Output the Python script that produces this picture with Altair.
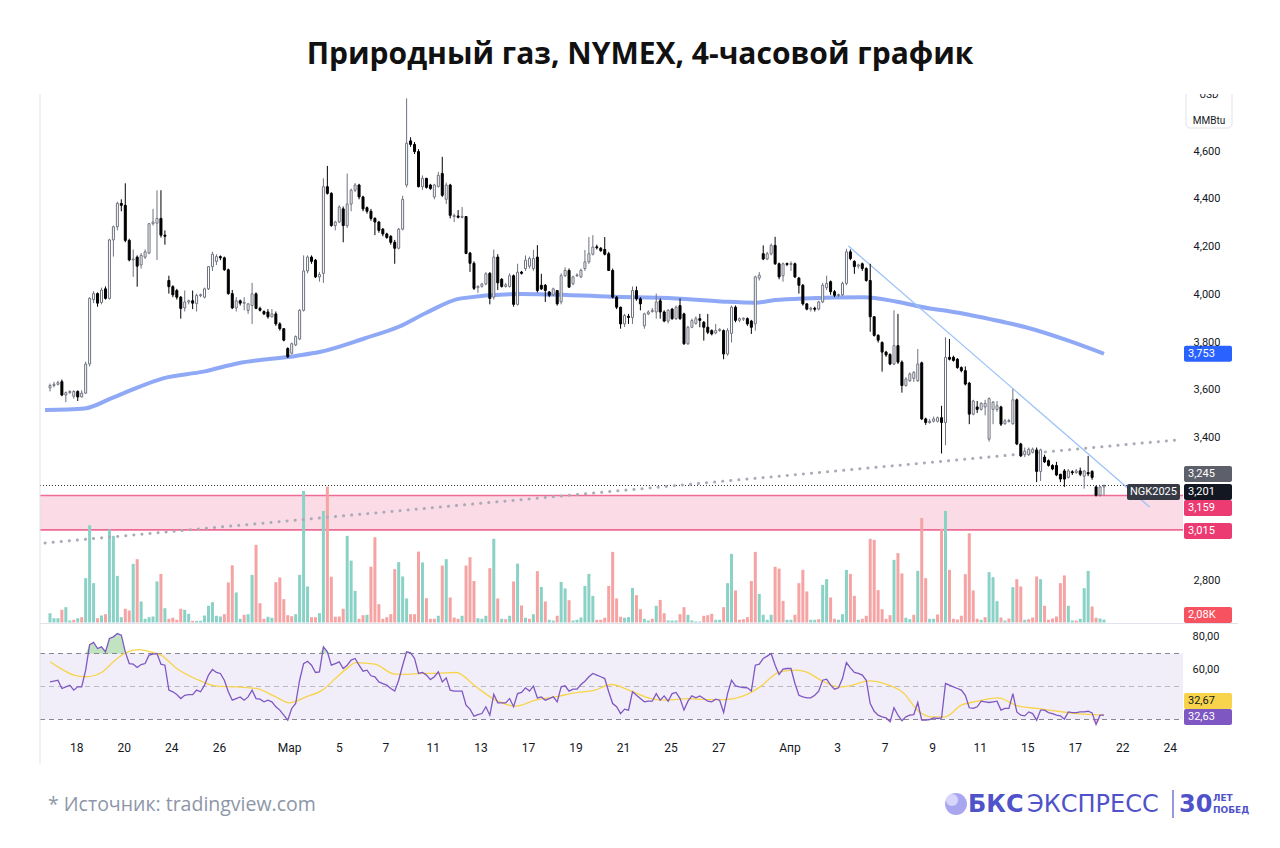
import altair as alt
import numpy as np
import pandas as pd

# ---------------- data ----------------
opens = [3.610, 3.620, 3.625, 3.636, 3.580, 3.590, 3.575, 3.595, 3.572, 3.588,
         3.710, 3.980, 4.005, 3.968, 4.025, 3.985, 4.230, 4.285, 4.383, 4.375,
         4.228, 4.146, 4.158, 4.125, 4.158, 4.175, 4.298, 4.300, 4.320, 4.250,
         4.060, 4.034, 4.018, 3.990, 3.945, 3.970, 3.975, 3.963, 3.997, 3.990,
         4.025, 4.118, 4.140, 4.160, 4.155, 4.105, 4.005, 3.945,
         3.975, 3.965, 3.935, 3.955, 4.004, 3.943, 3.930, 3.928, 3.908, 3.920, 3.878, 3.858,
         3.775, 3.755, 3.790, 3.815, 3.935, 4.100, 4.158, 4.145, 4.075, 4.090,
         4.453, 4.425, 4.290, 4.305, 4.360, 4.290, 4.380, 4.438, 4.460, 4.410,
         4.365, 4.350, 4.320, 4.305, 4.275, 4.255, 4.245, 4.220, 4.195, 4.275,
         4.460, 4.645, 4.630, 4.600, 4.453, 4.488,
         4.460, 4.410, 4.453, 4.508,
         4.400, 4.460, 4.330, 4.330, 4.325, 4.328, 4.175, 4.132, 4.030, 4.035,
         4.045, 4.090, 3.990, 4.158, 4.065, 4.035, 4.035, 4.080, 3.960, 4.095,
         4.110, 4.120, 4.110, 4.158, 4.040, 4.040, 4.012, 4.000, 4.018, 3.970,
         4.080, 4.102, 4.046, 4.080, 4.075, 4.110, 4.138, 4.170, 4.200, 4.195,
         4.190, 4.172, 4.102,
         3.990, 3.948, 3.878, 3.910, 3.905, 4.018, 3.983,
         3.870, 3.920, 3.930, 3.928, 3.975, 3.928, 3.890, 3.940, 3.900, 3.955,
         3.920, 3.795, 3.864, 3.880, 3.900, 3.885, 3.864, 3.850, 3.840, 3.850,
         3.850, 3.752, 3.838, 3.948, 3.893, 3.900, 3.900, 3.890, 3.878, 4.070,
         4.172, 4.150, 4.172, 4.207, 4.130, 4.080, 4.130, 4.128, 4.130, 4.070,
         4.040, 3.962, 3.940, 3.943, 3.940, 3.970, 4.030, 4.055, 4.013, 3.998,
         4.000, 4.048, 4.180, 4.140, 4.120, 4.130, 4.110, 4.060, 3.908, 3.830,
         3.800, 3.760, 3.750, 3.710, 3.787, 3.718, 3.620, 3.640, 3.650, 3.640,
         3.715, 3.480, 3.465, 3.470, 3.470, 3.485, 3.465, 3.738, 3.738, 3.730,
         3.695, 3.682, 3.630, 3.500, 3.530, 3.520, 3.530, 3.395,
         3.520, 3.520, 3.530, 3.460, 3.470, 3.460, 3.560, 3.375, 3.330, 3.330, 3.340, 3.350,
         3.260, 3.320, 3.305, 3.285, 3.285, 3.248, 3.262, 3.235, 3.258, 3.255,
         3.262, 3.240, 3.255, 3.260, 3.195, 3.160, 3.195]

highs = [3.628, 3.635, 3.640, 3.645, 3.595, 3.600, 3.600, 3.600, 3.600, 3.720,
         3.990, 4.015, 4.010, 4.030, 4.035, 4.235, 4.290, 4.390, 4.400, 4.467,
         4.235, 4.190, 4.165, 4.175, 4.190, 4.300, 4.360, 4.438, 4.438, 4.270,
         4.080, 4.040, 4.025, 3.995, 4.018, 3.980, 4.018, 4.005, 4.005, 4.030,
         4.120, 4.180, 4.170, 4.165, 4.160, 4.110, 4.020, 3.990,
         3.980, 3.990, 3.965, 4.050, 4.010, 3.950, 3.935, 3.940, 3.940, 3.930, 3.885, 3.860,
         3.780, 3.800, 3.830, 3.940, 4.165, 4.165, 4.165, 4.150, 4.095, 4.488,
         4.540, 4.430, 4.310, 4.375, 4.370, 4.508, 4.445, 4.468, 4.465, 4.415,
         4.370, 4.360, 4.325, 4.310, 4.280, 4.260, 4.250, 4.230, 4.280, 4.415,
         4.823, 4.660, 4.640, 4.610, 4.500, 4.490,
         4.465, 4.465, 4.515, 4.578,
         4.470, 4.465, 4.340, 4.355, 4.368, 4.330, 4.180, 4.140, 4.040, 4.050,
         4.095, 4.095, 4.190, 4.170, 4.070, 4.050, 4.090, 4.085, 4.130, 4.100,
         4.165, 4.160, 4.188, 4.208, 4.088, 4.045, 4.015, 4.030, 4.020, 4.090,
         4.115, 4.110, 4.080, 4.090, 4.110, 4.188, 4.242, 4.250, 4.210, 4.200,
         4.242, 4.180, 4.110,
         3.995, 3.950, 3.920, 3.920, 4.035, 4.035, 3.990,
         3.925, 3.935, 3.945, 4.005, 3.985, 3.935, 3.940, 3.945, 3.955, 3.985,
         3.925, 3.870, 3.900, 3.910, 3.920, 3.890, 3.920, 3.855, 3.878, 3.860,
         3.855, 3.860, 3.955, 3.955, 3.905, 3.905, 3.905, 3.895, 4.080, 4.095,
         4.207, 4.180, 4.215, 4.243, 4.135, 4.135, 4.135, 4.140, 4.135, 4.075,
         4.045, 3.965, 3.950, 3.950, 3.975, 4.050, 4.080, 4.060, 4.020, 4.005,
         4.055, 4.193, 4.190, 4.145, 4.130, 4.135, 4.115, 4.130, 3.910, 3.835,
         3.805, 3.765, 3.755, 3.935, 3.920, 3.725, 3.655, 3.675, 3.680, 3.773,
         3.720, 3.485, 3.480, 3.490, 3.490, 3.535, 3.822, 3.815, 3.745, 3.735,
         3.700, 3.700, 3.635, 3.560, 3.555, 3.550, 3.560, 3.570,
         3.555, 3.555, 3.535, 3.480, 3.480, 3.605, 3.565, 3.380, 3.360, 3.360, 3.360, 3.360,
         3.355, 3.330, 3.310, 3.290, 3.300, 3.250, 3.270, 3.270, 3.265, 3.270,
         3.276, 3.265, 3.325, 3.265, 3.200, 3.200, 3.205]

lows = [3.595, 3.612, 3.620, 3.575, 3.550, 3.585, 3.565, 3.555, 3.570, 3.585,
        3.700, 3.965, 3.950, 3.960, 3.980, 3.980, 4.160, 4.270, 4.350, 4.220,
        4.140, 4.075, 4.034, 4.110, 4.150, 4.170, 4.290, 4.146, 4.240, 4.210,
        4.005, 3.990, 3.980, 3.900, 3.930, 3.960, 3.940, 3.930, 3.990, 3.985,
        4.020, 4.100, 4.125, 4.145, 4.100, 4.000, 3.940, 3.930,
        3.955, 3.935, 3.920, 3.878, 3.940, 3.930, 3.915, 3.900, 3.905, 3.870, 3.850, 3.805,
        3.735, 3.750, 3.785, 3.810, 3.930, 4.090, 4.130, 4.070, 4.055, 4.050,
        4.420, 4.285, 4.270, 4.300, 4.220, 4.280, 4.350, 4.430, 4.400, 4.350,
        4.340, 4.310, 4.250, 4.260, 4.245, 4.235, 4.210, 4.130, 4.190, 4.270,
        4.450, 4.620, 4.590, 4.450, 4.440, 4.445,
        4.440, 4.400, 4.450, 4.410,
        4.380, 4.320, 4.305, 4.320, 4.320, 4.170, 4.096, 4.020, 4.008, 4.030,
        4.040, 3.960, 3.980, 4.020, 4.030, 4.030, 4.030, 3.950, 3.955, 4.085,
        4.100, 4.110, 4.100, 4.010, 4.020, 3.970, 3.990, 3.995, 3.955, 3.960,
        4.075, 4.030, 4.040, 4.075, 4.070, 4.100, 4.130, 4.165, 4.190, 4.180,
        4.165, 4.100, 3.985,
        3.940, 3.858, 3.865, 3.878, 3.878, 3.975, 3.935,
        3.858, 3.915, 3.925, 3.900, 3.900, 3.885, 3.880, 3.895, 3.895, 3.895,
        3.790, 3.790, 3.860, 3.875, 3.864, 3.808, 3.835, 3.830, 3.835, 3.845,
        3.730, 3.745, 3.800, 3.885, 3.885, 3.890, 3.870, 3.836, 3.850, 4.060,
        4.145, 4.145, 4.165, 4.125, 4.065, 4.055, 4.120, 4.100, 4.070, 4.005,
        3.955, 3.935, 3.930, 3.930, 3.935, 3.965, 4.020, 4.000, 3.990, 3.990,
        3.995, 4.040, 4.145, 4.088, 4.110, 4.100, 4.055, 3.845, 3.825, 3.800,
        3.678, 3.740, 3.705, 3.705, 3.710, 3.590, 3.615, 3.635, 3.635, 3.635,
        3.475, 3.455, 3.460, 3.465, 3.465, 3.335, 3.370, 3.725, 3.720, 3.690,
        3.675, 3.620, 3.458, 3.495, 3.505, 3.515, 3.495, 3.385,
        3.458, 3.510, 3.450, 3.455, 3.465, 3.455, 3.370, 3.320, 3.320, 3.325, 3.335, 3.215,
        3.220, 3.295, 3.280, 3.265, 3.240, 3.215, 3.195, 3.230, 3.245, 3.250,
        3.240, 3.188, 3.240, 3.225, 3.155, 3.155, 3.160]

closes = [3.620, 3.625, 3.632, 3.580, 3.590, 3.595, 3.595, 3.572, 3.588, 3.710,
          3.985, 4.005, 3.965, 4.020, 3.985, 4.230, 4.285, 4.383, 4.375, 4.228,
          4.146, 4.150, 4.120, 4.165, 4.180, 4.298, 4.305, 4.320, 4.250, 4.245,
          4.034, 4.000, 3.990, 3.943, 3.970, 3.975, 3.965, 3.997, 4.000, 4.025,
          4.118, 4.170, 4.160, 4.155, 4.105, 4.005, 3.945, 3.975,
          3.965, 3.968, 3.962, 4.004, 3.943, 3.935, 3.920, 3.908, 3.920, 3.878, 3.858, 3.810,
          3.740, 3.795, 3.825, 3.935, 4.100, 4.158, 4.140, 4.075, 4.085, 4.453,
          4.425, 4.290, 4.305, 4.368, 4.290, 4.380, 4.438, 4.460, 4.410, 4.360,
          4.350, 4.320, 4.305, 4.270, 4.255, 4.240, 4.220, 4.195, 4.275, 4.400,
          4.635, 4.630, 4.600, 4.453, 4.488, 4.450,
          4.445, 4.460, 4.500, 4.417,
          4.460, 4.333, 4.330, 4.325, 4.328, 4.173, 4.132, 4.027, 4.035, 4.045,
          4.088, 3.985, 4.158, 4.050, 4.035, 4.042, 4.080, 3.960, 4.095, 4.090,
          4.145, 4.152, 4.152, 4.018, 4.025, 4.018, 3.998, 4.025, 3.962, 4.080,
          4.102, 4.032, 4.075, 4.083, 4.102, 4.138, 4.172, 4.200, 4.198, 4.185,
          4.170, 4.102, 3.990,
          3.948, 3.878, 3.913, 3.905, 4.018, 3.983, 3.962,
          3.920, 3.928, 3.935, 3.970, 3.928, 3.890, 3.935, 3.900, 3.948, 3.900,
          3.795, 3.864, 3.892, 3.900, 3.893, 3.864, 3.843, 3.836, 3.850, 3.855,
          3.752, 3.850, 3.948, 3.893, 3.900, 3.900, 3.878, 3.864, 4.075, 4.082,
          4.150, 4.172, 4.207, 4.130, 4.075, 4.130, 4.128, 4.130, 4.075, 4.040,
          3.962, 3.940, 3.943, 3.940, 3.970, 4.040, 4.048, 4.013, 3.998, 4.000,
          4.048, 4.180, 4.152, 4.118, 4.125, 4.110, 4.060, 3.908, 3.830, 3.810,
          3.760, 3.748, 3.710, 3.787, 3.718, 3.620, 3.647, 3.668, 3.675, 3.710,
          3.480, 3.465, 3.470, 3.480, 3.485, 3.465, 3.738, 3.730, 3.725, 3.695,
          3.682, 3.626, 3.500, 3.555, 3.520, 3.545, 3.545, 3.565,
          3.550, 3.535, 3.458, 3.472, 3.472, 3.560, 3.375, 3.325, 3.345, 3.353, 3.353, 3.260,
          3.350, 3.300, 3.285, 3.270, 3.245, 3.228, 3.228, 3.262, 3.255, 3.262,
          3.248, 3.262, 3.250, 3.235, 3.160, 3.195, 3.201]

volumes_k = [6.5, 3.0, 3.0, 8.9, 10.7, 1.4, 1.9, 3.0, 3.7, 31,
             68, 27.5, 3.0, 4.9, 5.8, 65, 60.6, 32.6, 3.7, 9.6,
             8.4, 41, 44.3, 14.7, 2.6, 3.7, 4.2, 28.7, 34, 10,
             2.6, 3.3, 1.9, 9.6, 8.9, 6.1, 1.2, 1.2, 1.2, 4.9,
             11.7, 14.2, 4.7, 4.2, 5.8, 28, 40, 21, 2.6, 5.4,
             5.8, 33.3, 54.3, 13.5, 2.6, 4, 3.3, 28.2, 31.5, 16.3,
             5.1, 4.4, 5.8, 33.3, 92, 25.2, 3.7, 3.7, 6.5, 78,
             95, 32, 4, 4.2, 9.6, 60.6, 43.3, 22.1, 2.6, 5.1,
             5.4, 39, 59.6, 12.8, 2.6, 3.7, 5.8, 37.3, 42.2, 32.2,
             16.8, 5.8, 5.8, 49.6,
             42, 17, 2.6, 2.6, 4.7, 39.8,
             44.3, 17.5, 3.5, 2.6, 4.7, 39.8, 45.7, 29, 3, 2.6,
             4.7, 38, 58.5, 16.8, 2.6, 2.3, 4.7, 28.7, 41.2, 11.9,
             3.3, 2.6, 5.8, 35.9, 24.9, 14.7, 1.9, 1.4, 4.7, 28.4,
             23.8, 15.6, 1.4, 1.9, 3.5, 25.6, 34, 18.6, 1.9, 1.9,
             3.3, 25.6, 49.4, 16.8, 4, 3.3, 3.7, 24.2, 19.1, 9.3,
             2.6, 1.4, 2.6, 11.7, 15.8, 6.5, 1.4, 1.4, 1.4, 5.8,
             10.7, 5.4, 1.4, 0.7, 0.7, 4.7, 5.1, 6.1, 1.9, 1.9,
             10.7, 27.5, 48, 22.4, 1.9, 2.3, 3.7, 29, 49.4, 20,
             5.4, 1.9, 5.4, 39, 37.7, 15.1, 1.9, 1.9,
             5.4, 27.5,
             36.8, 21.7, 1.9, 1.9, 2.3, 26.3, 30.3, 17.5, 2.6, 1.9,
             5.8, 36.8, 34, 18.6, 1.9, 2.6, 4.7, 58.5, 57.8, 22.6,
             9.3, 2.6, 5.1, 43.8, 48.5, 34.3, 3.3, 2.3, 5.4, 36.1,
             73, 31, 2.6, 2.6, 5.6, 65.5, 78, 36.8, 2.6, 2.1,
             4.7, 33.8, 62.4, 22.4, 2.6, 1.9, 3.7, 35.2, 31.7, 14.9,
             3.5, 1.4, 2.8, 24.7, 30.3, 25.2, 1.9, 2.3, 3.5, 32.2,
             30.3, 11.7, 1.9, 2.8, 4.2, 27.5, 32.9, 11.7, 1.4, 1.4,
             2.6, 24, 36.1, 11.2, 3.3, 2.8, 2.08]

volume_dir = ("gggrggrgrg" "ggrgrggggr" "rgrgggggrg" "rrrrggrggg" "ggggrrrggr"
              "ggrrrggrrr" "rrggggrrgg" "rrrrrgggrr" "grrrrrrrgg" "grrr"
              "grrrgr" "grrrgrrrgg" "grgrgrgrgr" "grgrgrggrg" "grggggggrr"
              "rrrrrgggrr" "ggrgrrgggr" "rggggrrrgg" "rggrrrrrrg" "gggrrrgg"
              "rr" "rrggrggrrg" "ggrrgrrrrr" "rrrgrrggrg" "rrggrrgrrr"
              "rrrrrgrggg" "rgrgrrgrrr" "grrrrrrggr" "gggrrgg")

rsi = [52.8, 53.3, 53.8, 48.8, 49.8, 50.8, 47.8, 49.8, 49.8, 59.9,
       75.4, 76.7, 73.0, 74.0, 71.0, 79.1, 80.1, 82.1, 81.1, 71.0,
       63.9, 63.5, 61.5, 63.3, 63.9, 69.0, 69.6, 70.0, 63.5, 62.9,
       47.8, 46.8, 45.1, 42.7, 44.7, 45.1, 45.1, 47.8, 46.8, 50.8,
       56.9, 60.3, 58.5, 57.9, 53.8, 46.8, 41.7, 42.7, 43.7, 41.7,
       43.7, 47.8, 42.7, 42.3, 40.7, 41.7, 40.7, 37.7, 35.7, 32.6,
       29.6, 36.7, 39.7, 53.8, 63.9, 65.3, 62.9, 58.5, 58.9, 74.0,
       71.0, 62.9, 63.9, 64.9, 60.9, 62.9, 66.0, 67.0, 62.9, 59.3,
       59.9, 56.5, 55.9, 52.8, 51.8, 50.8, 48.8, 47.2, 53.8, 62.9,
       71.0, 70.4, 67.0, 57.9, 58.5, 56.9, 54.2, 55.9, 58.9, 52.8,
       55.2, 47.8, 47.2, 47.2, 47.2, 38.7, 36.3, 32.0, 33.0, 33.6,
       37.7, 32.6, 45.3, 40.1, 40.1, 40.1, 42.7, 37.7, 45.7, 46.4,
       49.2, 47.2, 50.2, 43.1, 43.7, 41.7, 42.7, 43.7, 40.7, 49.8,
       50.4, 47.2, 48.4, 48.4, 51.2, 53.2, 55.9, 57.9, 56.9, 55.9,
       54.8, 46.8, 39.7, 37.7, 33.6, 36.3, 35.7, 46.8, 44.7, 42.7,
       40.7, 41.1, 41.1, 45.7, 41.7, 44.3, 41.1, 45.7, 46.4, 42.7,
       35.7, 41.1, 44.3, 43.1, 44.3, 42.7, 41.1, 40.7, 42.3, 41.7,
       34.2, 45.7, 53.8, 50.4, 49.8, 49.4, 49.2, 47.2, 62.9, 63.5,
       67.0, 68.4, 70.0, 62.9, 57.3, 60.5, 60.9, 60.9, 51.8, 44.7,
       43.7, 43.1, 43.1, 44.7, 47.2, 53.8, 54.4, 50.8, 48.4, 49.2,
       54.8, 64.5, 61.3, 58.5, 57.9, 56.9, 53.8, 39.7, 35.0, 32.6,
       31.6, 31.0, 28.6, 37.1, 32.6, 29.2, 31.6, 32.6, 33.0, 40.3,
       29.6, 29.6, 30.0, 31.0, 30.6, 31.0, 51.8, 50.8, 49.8, 48.8,
       47.8, 44.7, 37.1, 36.7, 37.7, 41.1, 40.7, 40.3, 40.7, 41.1,
       35.7, 36.7, 36.7, 45.7, 34.6, 32.6, 32.2, 34.6, 33.6, 29.6,
       35.7, 35.7, 34.2, 33.6, 32.6, 32.2, 30.2, 34.6, 34.2, 34.2,
       34.6, 34.6, 35.0, 34.0, 27.0, 32.6, 32.63]

rsi_ma_idx = [0, 2, 6, 9, 13, 16, 19, 22.5, 25.4, 28, 32, 37, 42, 47, 52, 57, 60.4,
              64.6, 68.75, 72, 75.4, 77, 82, 87, 90.4, 93.75, 97.5, 102.5, 107.5,
              112.5, 117.5, 122.5, 127.5, 132.5, 137.5, 141.7, 146.7, 151.7, 155.8,
              160.8, 165.8, 170, 175.8, 179.2, 184.2, 188.3, 190.8, 195, 199.2,
              202.5, 206.7, 211.7, 215.25, 219.2, 222.5, 225.8, 230, 234.2, 239.2,
              244.2, 249.2, 254.2, 259.2, 266]
rsi_ma_val = [65, 61.9, 56.9, 55.9, 58.5, 65, 70.4, 72.4, 71, 69, 60.9, 54.4, 50.2,
              49.8, 48.8, 43.7, 40.1, 43.7, 47.8, 54.8, 61.9, 64.5, 63.5, 57.5, 57.3,
              57.9, 57.9, 58.5, 49.8, 41.7, 38.1, 41.7, 43.7, 46.2, 47.8, 51.2, 47.2,
              42.7, 41.7, 42.7, 42.1, 42.1, 45.1, 49.8, 58.9, 59.9, 58.9, 53.2, 49.8,
              50.8, 53.4, 50.8, 46.4, 35, 31.6, 31.6, 38.7, 41.1, 43.1, 38.3, 36.7,
              35.0, 33.6, 32.67]

ma_idx = [-1.25, 8.75, 15.4, 19.5, 28.75, 38.75, 47.5, 62, 68, 79.5, 88, 95, 103.75,
          118.75, 142, 158, 170.4, 178, 183, 190, 205.4, 213.75, 222, 226.25, 237.5,
          246.25, 257, 266]
ma_val = [3.517, 3.524, 3.566, 3.594, 3.651, 3.678, 3.713, 3.744, 3.760, 3.818, 3.866,
          3.925, 3.985, 4.003, 3.992, 3.985, 3.971, 3.967, 3.978, 3.985, 3.990, 3.971,
          3.943, 3.933, 3.897, 3.864, 3.808, 3.753]

trend_idx = [201.5, 277.5]
trend_val = [4.204, 3.111]
support_idx = [-1.25, 284.5]
support_val = [2.960, 3.392]

zone_low, zone_high = 3.015, 3.159
last_price = 3.201
level_245 = 3.245
ma_last = 3.753
vol_last = 2.08
rsi_last, rsi_ma_last = 32.63, 32.67

price_ticks = [4.6, 4.4, 4.2, 4.0, 3.8, 3.6, 3.4, 2.8]
rsi_ticks = [80, 60]
date_text = ["18", "20", "24", "26", "Мар", "5", "7", "11", "13", "17", "19", "21",
             "25", "27", "Апр", "3", "7", "9", "11", "15", "17", "22", "24"]
date_bar = [6.75, 18.75, 30.75, 42.75, 60.5, 73.0, 84.75, 96.75, 108.75, 120.75,
            132.75, 144.75, 156.75, 168.75, 186.75, 198.75, 210.75, 222.75, 234.75,
            246.75, 258.75, 270.75, 282.75]

# ---------------- scales ----------------
FONT = "Roboto"
X = alt.Scale(domain=[0, 266], range=[37, 1101], nice=False, zero=False)
PY = alt.Scale(domain=[2.8, 4.6], range=[573.2, 143.6], nice=False, zero=False)
VY = alt.Scale(domain=[0, 100], range=[614.5, 471.5], nice=False, zero=False)
RY = alt.Scale(domain=[0, 100], range=[761, 596], nice=False, zero=False)
PIX = alt.Scale(domain=[0, 828], range=[0, 828], nice=False, zero=False)
PPU_P = (573.2 - 143.6) / 1.8
PPU_V = (614.5 - 471.5) / 100
PPU_R = (761 - 596) / 100

def xi(field="i"):
    return alt.X(f"{field}:Q", scale=X, axis=None)

def yy(field, sc):
    return alt.Y(f"{field}:Q", scale=sc, axis=None)

def comma(v, d):
    return f"{v:.{d}f}".replace(".", ",")

layers = []

# RSI background band and levels
layers.append(alt.Chart(pd.DataFrame({"a": [70], "b": [30]})).mark_rect(color="#7e57c2", opacity=0.1)
              .encode(x=alt.value(32), x2=alt.value(1175), y=yy("a", RY), y2="b:Q"))
layers.append(alt.Chart(pd.DataFrame({"v": [70, 50, 30], "c": ["#868993", "#b7bac3", "#868993"]}))
              .mark_rule(strokeDash=[5, 4], strokeWidth=1.2)
              .encode(x=alt.value(32), x2=alt.value(1175), y=yy("v", RY), color=alt.Color("c:N", scale=None)))

# pink zone
layers.append(alt.Chart(pd.DataFrame({"lo": [zone_low], "hi": [zone_high]})).mark_rect(color="#fbdbe5")
              .encode(x=alt.value(32), x2=alt.value(1175), y=yy("hi", PY), y2="lo:Q"))
layers.append(alt.Chart(pd.DataFrame({"v": [zone_low, zone_high]})).mark_rule(color="#f06b93", strokeWidth=1.6)
              .encode(x=alt.value(32), x2=alt.value(1175), y=yy("v", PY)))

# volume
n = min(len(volumes_k), len(volume_dir))
vdf = pd.DataFrame({"i": list(range(n)), "v": volumes_k[:n],
                    "c": ["#8ad1c6" if d == "g" else "#f5a3a3" for d in volume_dir[:n]]})
layers.append(alt.Chart(vdf).mark_bar(size=3).encode(x=xi(), y=yy("v", VY), color=alt.Color("c:N", scale=None)))

# last price dotted line
layers.append(alt.Chart(pd.DataFrame({"v": [last_price]})).mark_rule(color="#333", strokeDash=[1, 2], strokeWidth=1)
              .encode(x=alt.value(32), x2=alt.value(1119), y=yy("v", PY)))

# support dotted line
layers.append(alt.Chart(pd.DataFrame({"i": support_idx, "p": support_val}))
              .mark_line(color="#a9acb6", strokeWidth=3, strokeDash=[0.1, 8], strokeCap="round")
              .encode(x=xi(), y=yy("p", PY)))

# moving average
layers.append(alt.Chart(pd.DataFrame({"i": ma_idx, "p": ma_val}))
              .mark_line(color="#8fa9f6", strokeWidth=4, interpolate="monotone")
              .encode(x=xi(), y=yy("p", PY)))

# falling trendline
layers.append(alt.Chart(pd.DataFrame({"i": trend_idx, "p": trend_val}))
              .mark_line(color="#9cc3f7", strokeWidth=1.3)
              .encode(x=xi(), y=yy("p", PY)))

# candles
m = min(len(opens), len(highs), len(lows), len(closes))
o = np.array(opens[:m]); h = np.array(highs[:m]); l = np.array(lows[:m]); c = np.array(closes[:m])
up = c >= o
bh = np.maximum(o, c); bl = np.minimum(o, c)
mid = (bh + bl) / 2
small = (bh - bl) < 0.004
bh = np.where(small, mid + 0.002, bh); bl = np.where(small, mid - 0.002, bl)
cdf = pd.DataFrame({"i": np.arange(m), "h": h, "l": l, "bh": bh, "bl": bl,
                    "fc": np.where(up, "#ffffff", "#000000"),
                    "sc": np.where(up, "#6f7380", "#000000"),
                    "wc": np.where(up, "#6f7380", "#000000")})
layers.append(alt.Chart(cdf).mark_rule(strokeWidth=1).encode(x=xi(), y=yy("l", PY), y2="h:Q",
                                                             color=alt.Color("wc:N", scale=None)))
layers.append(alt.Chart(cdf).mark_bar(size=2, strokeWidth=1).encode(
    x=xi(), y=yy("bh", PY), y2="bl:Q",
    fill=alt.Fill("fc:N", scale=None), stroke=alt.Stroke("sc:N", scale=None)))

# RSI
r = np.array(rsi)
rdf = pd.DataFrame({"i": np.arange(len(r)), "r": r, "top": np.maximum(r, 70), "c70": 70,
                    "bot": np.minimum(r, 30), "c30": 30})
layers.append(alt.Chart(rdf).mark_area(color="#4caf50", opacity=0.35).encode(x=xi(), y=yy("top", RY), y2="c70:Q"))
layers.append(alt.Chart(rdf).mark_area(color="#ef5350", opacity=0.3).encode(x=xi(), y=yy("bot", RY), y2="c30:Q"))
layers.append(alt.Chart(pd.DataFrame({"i": rsi_ma_idx, "r": rsi_ma_val}))
              .mark_line(color="#f7d44c", strokeWidth=1.3, interpolate="monotone")
              .encode(x=xi(), y=yy("r", RY)))
layers.append(alt.Chart(rdf).mark_line(color="#7e57c2", strokeWidth=1.3).encode(x=xi(), y=yy("r", RY)))

# borders / separators
border = "#e0e3eb"
layers.append(alt.Chart(pd.DataFrame({"a": [0]})).mark_rule(color=border, strokeWidth=1)
              .encode(x=alt.value(32), y=alt.value(86), y2=alt.value(756)))
layers.append(alt.Chart(pd.DataFrame({"a": [0]})).mark_rule(color=border, strokeWidth=1)
              .encode(x=alt.value(32), x2=alt.value(1230), y=alt.value(615.5)))

# value label boxes
def boxes(vals, shifts, fills, tcolors, texts, sc, ppu):
    vals = np.array(vals, dtype=float); shifts = np.array(shifts, dtype=float)
    yc = vals - shifts / ppu
    df = pd.DataFrame({"yc": yc, "y1": yc + 8 / ppu, "y2": yc - 8 / ppu,
                       "f": fills, "tc": tcolors, "t": texts})
    rect = alt.Chart(df).mark_rect(cornerRadius=2).encode(
        x=alt.value(1176), x2=alt.value(1224), y=yy("y1", sc), y2="y2:Q", fill=alt.Fill("f:N", scale=None))
    txt = alt.Chart(df).mark_text(align="left", baseline="middle", fontSize=11, font=FONT).encode(
        x=alt.value(1180), y=yy("yc", sc), text="t:N", color=alt.Color("tc:N", scale=None))
    return [rect, txt]

pv = [ma_last, level_245, last_price, zone_high, zone_low]
layers += boxes(pv, [0, -1, 6.5, 12.5, 1],
                ["#2962ff", "#5d606b", "#131722", "#ec3a72", "#ec3a72"],
                ["white"] * 5, [comma(v, 3) for v in pv], PY, PPU_P)
# NGK2025 tag
ngk_y = last_price - 6.5 / PPU_P
ngk = pd.DataFrame({"yc": [ngk_y], "y1": [ngk_y + 8 / PPU_P], "y2": [ngk_y - 8 / PPU_P], "t": ["NGK2025"]})
layers.append(alt.Chart(ngk).mark_rect(color="#363a45", cornerRadius=2)
              .encode(x=alt.value(1119), x2=alt.value(1172), y=yy("y1", PY), y2="y2:Q"))
layers.append(alt.Chart(ngk).mark_text(align="center", baseline="middle", fontSize=11, font=FONT, color="white")
              .encode(x=alt.value(1145.5), y=yy("yc", PY), text="t:N"))
layers += boxes([vol_last], [-4.5], ["#f7525f"], ["white"], [comma(vol_last, 2) + "K"], VY, PPU_V)
layers += boxes([rsi_ma_last, rsi_last], [-14, 1.8], ["#f7d44c", "#7e57c2"], ["#131722", "white"],
                [comma(rsi_ma_last, 2), comma(rsi_last, 2)], RY, PPU_R)

# price & rsi tick labels
layers.append(alt.Chart(pd.DataFrame({"v": price_ticks, "t": [comma(v, 3) for v in price_ticks]}))
              .mark_text(align="center", baseline="middle", fontSize=11, font=FONT, color="#131722")
              .encode(x=alt.value(1199), y=yy("v", PY), text="t:N"))
layers.append(alt.Chart(pd.DataFrame({"v": rsi_ticks, "t": [comma(v, 2) for v in rsi_ticks]}))
              .mark_text(align="center", baseline="middle", fontSize=11, font=FONT, color="#131722")
              .encode(x=alt.value(1198), y=yy("v", RY), text="t:N"))

# currency box
layers.append(alt.Chart(pd.DataFrame({"a": [0]})).mark_rect(fill="white", stroke="#e0e3eb", cornerRadius=4)
              .encode(x=alt.value(1178), x2=alt.value(1224), y=alt.value(74), y2=alt.value(120)))
layers.append(alt.Chart(pd.DataFrame({"t": ["USD", "MMBtu"], "y": [87, 113]}))
              .mark_text(align="center", baseline="middle", fontSize=10, font=FONT, color="#131722")
              .encode(x=alt.value(1201), y=alt.Y("y:Q", scale=PIX, axis=None), text="t:N"))
layers.append(alt.Chart(pd.DataFrame({"a": [0]})).mark_rect(color="white")
              .encode(x=alt.value(1170), x2=alt.value(1232), y=alt.value(60), y2=alt.value(86)))

# date labels
layers.append(alt.Chart(pd.DataFrame({"p": date_bar, "t": date_text}))
              .mark_text(align="center", baseline="middle", fontSize=12, font=FONT, color="#131722")
              .encode(x=xi("p"), y=alt.value(740), text="t:N"))

# title
layers.append(alt.Chart(pd.DataFrame({"t": ["Природный газ, NYMEX, 4-часовой график"]}))
              .mark_text(align="center", baseline="middle", fontSize=30, fontWeight="bold", font="Open Sans", color="#111111")
              .encode(x=alt.value(632), y=alt.value(47), text="t:N"))

# footer
layers.append(alt.Chart(pd.DataFrame({"t": ["*  Источник: tradingview.com"]}))
              .mark_text(align="left", baseline="middle", fontSize=19.5, font="Open Sans", color="#8d96a8")
              .encode(x=alt.value(40), y=alt.value(797), text="t:N"))

# logo
logo_c = "#4f52c9"
layers.append(alt.Chart(pd.DataFrame({"a": [0]})).mark_circle(size=480, color="#a9a6f0", opacity=1)
              .encode(x=alt.value(948), y=alt.value(796)))
layers.append(alt.Chart(pd.DataFrame({"a": [0]})).mark_circle(size=150, color="#dcdafc", opacity=0.9)
              .encode(x=alt.value(944), y=alt.value(792)))
layers.append(alt.Chart(pd.DataFrame({"t": ["БКС"]})).mark_text(align="left", baseline="middle", fontSize=24,
              fontWeight="bold", font="DejaVu Sans", color=logo_c).encode(x=alt.value(960), y=alt.value(797), text="t:N"))
layers.append(alt.Chart(pd.DataFrame({"t": ["ЭКСПРЕСС"]})).mark_text(align="left", baseline="middle", fontSize=24,
              font="DejaVu Sans", color=logo_c).encode(x=alt.value(1019), y=alt.value(797), text="t:N"))
layers.append(alt.Chart(pd.DataFrame({"a": [0]})).mark_rule(color=logo_c, strokeWidth=1.2)
              .encode(x=alt.value(1165), y=alt.value(782), y2=alt.value(810)))
layers.append(alt.Chart(pd.DataFrame({"t": ["30"]})).mark_text(align="left", baseline="middle", fontSize=24,
              fontWeight="bold", font="DejaVu Sans", color=logo_c).encode(x=alt.value(1171), y=alt.value(797), text="t:N"))
layers.append(alt.Chart(pd.DataFrame({"t": ["ЛЕТ", "ПОБЕД"], "y": [790, 802]}))
              .mark_text(align="left", baseline="middle", fontSize=9, fontWeight="bold", font="DejaVu Sans", color=logo_c)
              .encode(x=alt.value(1205), y=alt.Y("y:Q", scale=PIX, axis=None), text="t:N"))

chart = (alt.layer(*layers)
         .resolve_scale(y="independent")
         .properties(width=1264, height=828, padding=0,
                     autosize=alt.AutoSizeParams(type="none"), background="white")
         .configure_view(strokeWidth=0))

chart.save("out.html", embed_options={"renderer": "svg", "actions": False})
